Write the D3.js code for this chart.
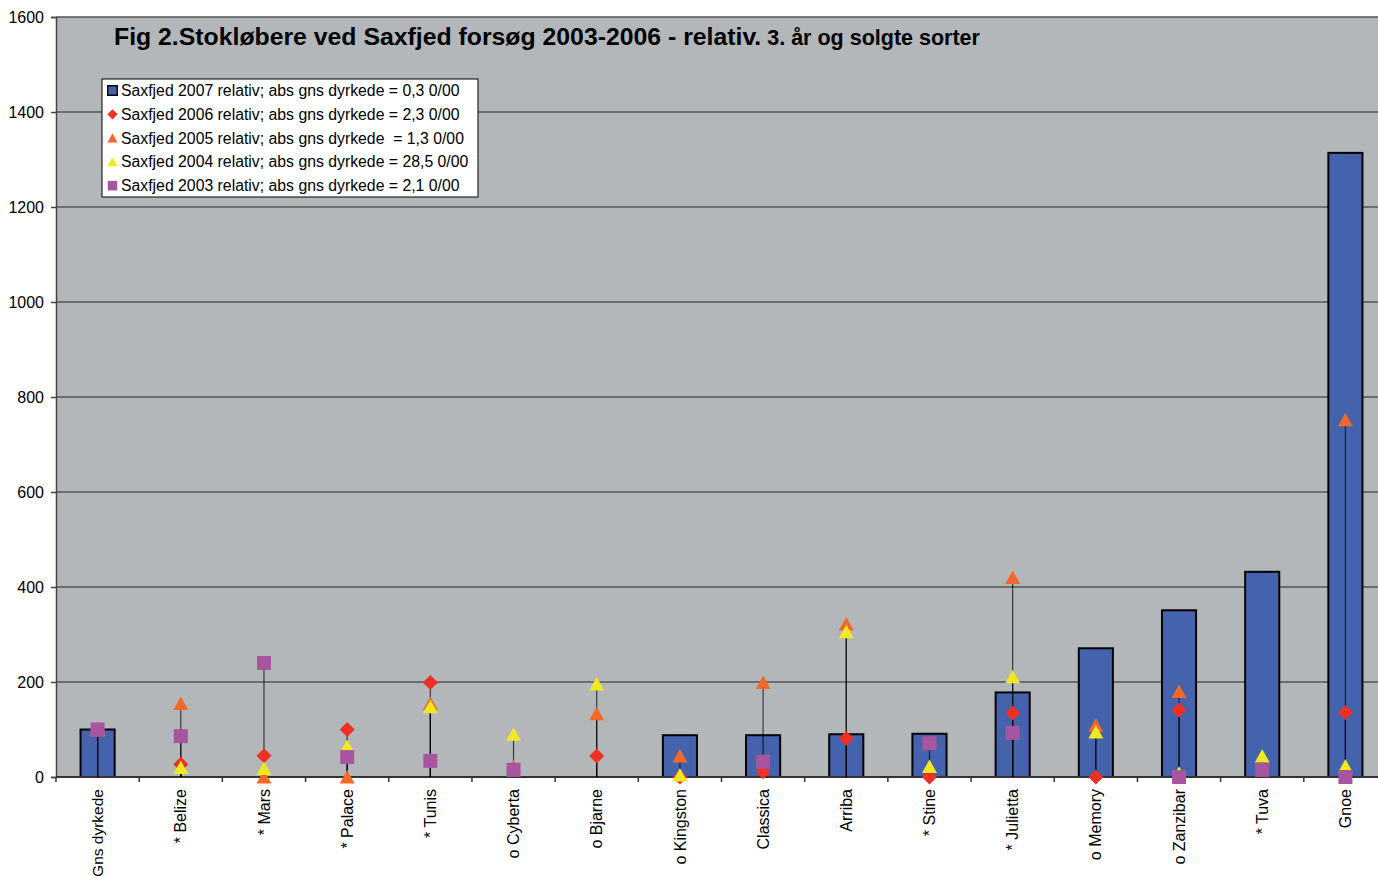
<!DOCTYPE html>
<html>
<head>
<meta charset="utf-8">
<script src="https://cdn.jsdelivr.net/npm/d3@7/dist/d3.min.js"></script>
<style>
  html, body { margin: 0; padding: 0; background: #fff; overflow: hidden; }
  svg { display: block; font-family: "Liberation Sans", Arial, sans-serif; }
</style>
</head>
<body>
<svg id="chart" width="1378" height="876"></svg>
<script>
// ---- data ----
const categories = ["Gns dyrkede", "* Belize", "* Mars", "* Palace", "* Tunis", "o Cyberta", "o Bjarne",
  "o Kingston", "Classica", "Arriba", "* Stine", "* Julietta", "o Memory", "o Zanzibar", "* Tuva", "Gnoe"];

const saxfjed2007 = [100, null, null, null, null, null, null, 88, 88, 90, 91, 178, 271, 351, 432, 1314];
const saxfjed2006 = [100, 27, 45, 100, 199, null, 44, 0, 11, 81, 0, 135, 0, 141, null, 136];
const saxfjed2005 = [99, 155, 0, 0, 155, 22, 133, 44, 199, 322, null, 420, 109, 180, null, 752];
const saxfjed2004 = [100, 20, 18, 64, 148, 90, 196, 4, null, 306, 22, 211, 95, 8, 44, 23];
const saxfjed2003 = [100, 86, 240, 42, 34, 15, null, null, 32, null, 71, 93, null, 0, 15, 0];

const yTicks = [0, 200, 400, 600, 800, 1000, 1200, 1400, 1600];

const legendLabels = [
  "Saxfjed 2007 relativ; abs gns dyrkede = 0,3 0/00",
  "Saxfjed 2006 relativ; abs gns dyrkede = 2,3 0/00",
  "Saxfjed 2005 relativ; abs gns dyrkede  = 1,3 0/00",
  "Saxfjed 2004 relativ; abs gns dyrkede = 28,5 0/00",
  "Saxfjed 2003 relativ; abs gns dyrkede = 2,1 0/00"
];

const titleMain = "Fig 2.Stokløbere ved Saxfjed forsøg 2003-2006 - relativ.";
const titleSub = " 3. år og solgte sorter";

// ---- styles ----
const colBar = "#4563ac";
const colRed = "#ee3124";
const colOrange = "#f3692a";
const colYellow = "#f1e823";
const colPink = "#a8559f";
const bg = "#b4b7ba";

const lineSeries = [
  { values: saxfjed2006, color: colRed, shape: "diamond" },
  { values: saxfjed2005, color: colOrange, shape: "triangle" },
  { values: saxfjed2004, color: colYellow, shape: "triangle" },
  { values: saxfjed2003, color: colPink, shape: "square" }
];

function shapePath(shape) {
  if (shape === "diamond") return "M0,-7.5L7.5,0L0,7.5L-7.5,0Z";
  if (shape === "triangle") return "M0,-7L7.5,6.5L-7.5,6.5Z";
  return "M-7,-7H7V7H-7Z";
}

const svg = d3.select("#chart");
const pLeft = 56, pRight = 1387, pTop = 17, pBottom = 777;

const x = d3.scaleBand().domain(categories).range([pLeft, pRight]).padding(0);
const y = d3.scaleLinear().domain([0, 1600]).range([pBottom, pTop]);

// plot background
svg.append("rect").attr("x", pLeft).attr("y", pTop).attr("width", pRight - pLeft).attr("height", pBottom - pTop).attr("fill", bg);

// gridlines
svg.append("g").selectAll("line").data(yTicks.filter(d => d > 0)).join("line")
  .attr("x1", pLeft).attr("x2", pRight)
  .attr("y1", d => y(d)).attr("y2", d => y(d))
  .attr("stroke", "#555").attr("stroke-width", 1.5);

// y axis
const yAxis = d3.axisLeft(y).tickValues(yTicks).tickSize(5).tickPadding(7).tickFormat(d3.format("d"));
const gy = svg.append("g").attr("transform", `translate(${pLeft},0)`).call(yAxis);
gy.select(".domain").attr("stroke", "#444").attr("stroke-width", 1.5);
gy.selectAll(".tick line").attr("stroke", "#444").attr("stroke-width", 1.5);
gy.selectAll(".tick text").attr("font-size", 16).attr("fill", "#000")
  .attr("font-family", "'Liberation Sans', Arial, sans-serif");

// bars
const bw = x.bandwidth() * 0.41;
svg.append("g").selectAll("rect").data(categories.map((c, i) => ({ c, v: saxfjed2007[i] })).filter(d => d.v != null && d.v > 0))
  .join("rect")
  .attr("x", d => x(d.c) + x.bandwidth() / 2 - bw / 2)
  .attr("y", d => y(d.v))
  .attr("width", bw)
  .attr("height", d => y(0) - y(d.v))
  .attr("fill", colBar).attr("stroke", "#000").attr("stroke-width", 2);

// x axis
const gx = svg.append("g").attr("transform", `translate(0,${pBottom})`);
gx.append("line").attr("x1", pLeft).attr("x2", pRight).attr("y1", 0).attr("y2", 0).attr("stroke", "#333").attr("stroke-width", 2);
gx.selectAll("line.tk").data(d3.range(categories.length + 1)).join("line").attr("class", "tk")
  .attr("x1", i => pLeft + i * x.step()).attr("x2", i => pLeft + i * x.step())
  .attr("y1", 0).attr("y2", 5).attr("stroke", "#333").attr("stroke-width", 1.5);

// drop lines
const drops = [];
lineSeries.forEach(s => s.values.forEach((v, i) => { if (v != null && v > 0) drops.push({ c: categories[i], v }); }));
svg.append("g").selectAll("line").data(drops).join("line")
  .attr("x1", d => x(d.c) + x.bandwidth() / 2).attr("x2", d => x(d.c) + x.bandwidth() / 2)
  .attr("y1", d => y(d.v)).attr("y2", y(0))
  .attr("stroke", "#000").attr("stroke-width", 1.2).attr("stroke-opacity", 0.7);

// markers
lineSeries.forEach(s => {
  svg.append("g").selectAll("path")
    .data(s.values.map((v, i) => ({ c: categories[i], v })).filter(d => d.v != null))
    .join("path")
    .attr("d", shapePath(s.shape))
    .attr("transform", d => `translate(${x(d.c) + x.bandwidth() / 2},${y(d.v)})`)
    .attr("fill", s.color);
});

// category labels
svg.append("g").selectAll("text").data(categories).join("text")
  .attr("transform", d => `translate(${x(d) + x.bandwidth() / 2},789) rotate(-90)`)
  .attr("text-anchor", "end").attr("dy", "0.35em")
  .attr("font-size", d => d.length > 10 ? 15.5 : 16).attr("fill", "#000")
  .text(d => d);

// title
const t = svg.append("text").attr("x", 114).attr("y", 45).attr("font-weight", "bold").attr("fill", "#000")
  .attr("font-family", "'Liberation Sans', Arial, sans-serif");
t.append("tspan").attr("font-size", 24.8).text(titleMain);
t.append("tspan").attr("font-size", 21.5).style("white-space", "pre").text(titleSub);

// legend
const lg = svg.append("g").attr("transform", "translate(102,79)");
lg.append("rect").attr("width", 376).attr("height", 118).attr("fill", "#fff").attr("stroke", "#000").attr("stroke-width", 1);
const legendMarkers = [
  { color: colBar, shape: "square", stroke: "#000" },
  { color: colRed, shape: "diamond" },
  { color: colOrange, shape: "triangle" },
  { color: colYellow, shape: "triangle" },
  { color: colPink, shape: "square" }
];
legendLabels.forEach((lab, i) => {
  const cy = 11.5 + i * 23.8;
  const m = legendMarkers[i];
  const mk = lg.append("path").attr("transform", `translate(10.5,${cy}) scale(0.68)`)
    .attr("d", shapePath(m.shape)).attr("fill", m.color);
  if (m.stroke) mk.attr("stroke", m.stroke).attr("stroke-width", 2);
  lg.append("text").attr("x", 19).attr("y", cy).attr("dy", "0.35em")
    .attr("font-size", 15.8).attr("fill", "#000").style("white-space", "pre").text(lab);
});
</script>
</body>
</html>
